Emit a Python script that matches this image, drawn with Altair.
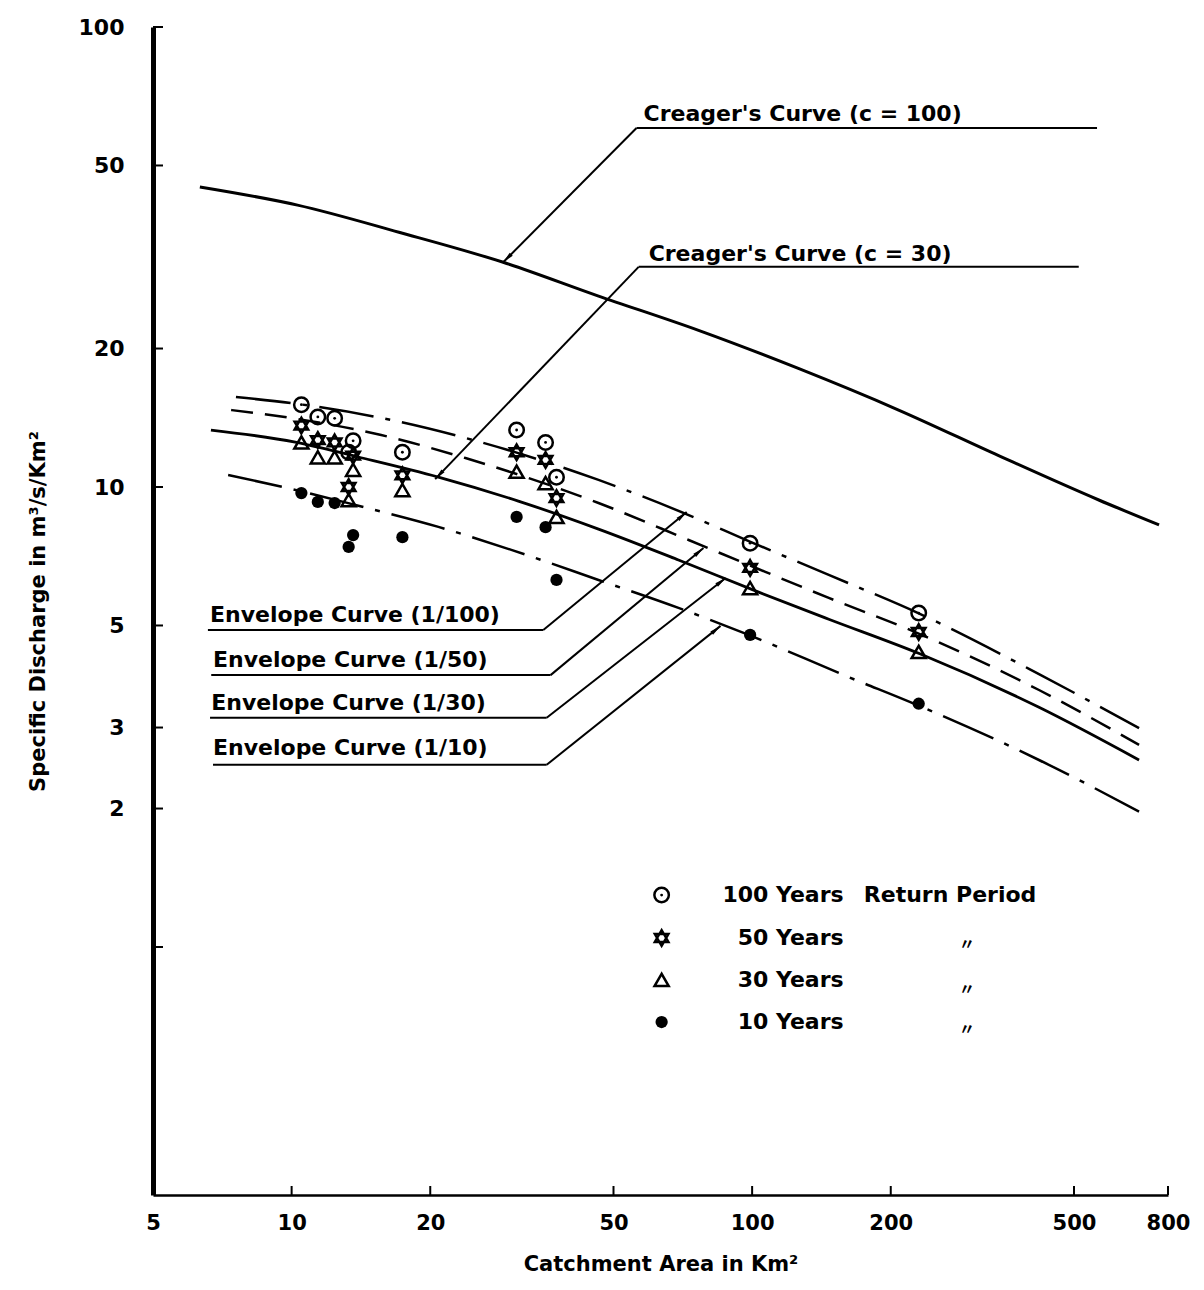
import altair as alt
import pandas as pd

# ---------------- data ----------------
# Catchment areas (km2) of the observed stations
areas = [10.5, 11.4, 12.4, 13.6, 13.3, 17.4, 30.8, 35.6, 37.6, 99.0, 230.0]
# Specific discharges (m3/s/km2) per return period
q100 = [15.1, 14.2, 14.1, 12.6, 11.9, 11.9, 13.3, 12.5, 10.5, 7.55, 5.32]
q50 = [13.6, 12.65, 12.5, 11.7, 10.0, 10.6, 11.9, 11.45, 9.46, 6.67, 4.84]
q30 = [12.5, 11.6, 11.6, 10.9, 9.37, 9.85, 10.8, 10.2, 8.61, 6.03, 4.38]
q10 = [9.7, 9.28, 9.23, 7.86, 7.41, 7.78, 8.61, 8.18, 6.28, 4.77, 3.38]

# Creager's curve (c = 100)
creager_x = [6.32, 10.3, 17.1, 28.8, 46.4, 76.5, 126, 208, 343, 566, 765]
creager_y = [44.9, 41.0, 35.8, 30.8, 26.0, 21.9, 18.1, 14.7, 11.7, 9.37, 8.27]

# Envelope curves
env100_x = [7.57, 10.33, 15.65, 23.85, 46.39, 72.8, 98.3, 146.7, 231.3, 419.7, 692.3]
env100_y = [15.69, 15.15, 14.13, 12.78, 10.36, 8.69, 7.63, 6.44, 5.30, 3.92, 2.99]
env50_x = [7.39, 10.33, 15.65, 23.85, 46.39, 72.8, 98.3, 146.7, 231.3, 419.7, 692.3]
env50_y = [14.70, 14.05, 12.97, 11.56, 9.23, 7.67, 6.77, 5.74, 4.79, 3.62, 2.75]
env30_x = [6.68, 10.18, 13.95, 20.83, 31.07, 46.39, 69.2, 103.3, 146.7, 231.3, 419.7, 692.3]
env30_y = [13.30, 12.52, 11.62, 10.51, 9.32, 8.10, 6.94, 5.91, 5.16, 4.34, 3.32, 2.55]
env10_x = [7.28, 10.44, 13.75, 20.83, 30.0, 46.39, 69.2, 98.3, 162.2, 227.9, 419.7, 692.3]
env10_y = [10.62, 9.80, 9.14, 8.19, 7.30, 6.28, 5.46, 4.77, 3.86, 3.36, 2.55, 1.97]

# axis ticks
x_ticks = [5, 10, 20, 50, 100, 200, 500, 800]
y_ticks = [1, 2, 3, 5, 10, 20, 50, 100]

# annotation labels (text, x, y in data units)
label_text = [
    "Creager's Curve (c = 100)",
    "Creager's Curve (c = 30)",
    "Envelope Curve (1/100)",
    "Envelope Curve (1/50)",
    "Envelope Curve (1/30)",
    "Envelope Curve (1/10)",
]
label_x = [58.1, 59.6, 6.65, 6.75, 6.69, 6.75]
label_y = [62.5, 31.0, 5.09, 4.06, 3.27, 2.62]

# leader lines (start -> end, data units)
lead_x = [56.1, 56.1, 56.7, 56.7, 6.58, 35.2, 6.69, 36.5, 6.65, 35.8, 6.75, 35.8]
lead_y = [60.3, 60.3, 30.1, 30.1, 4.89, 4.89, 3.90, 3.90, 3.15, 3.15, 2.49, 2.49]
lead_x2 = [561, 28.8, 512, 20.5, 35.2, 72.1, 36.5, 78.4, 35.8, 87.6, 35.8, 85.4]
lead_y2 = [60.3, 30.8, 30.1, 10.4, 4.89, 8.82, 3.90, 7.37, 3.15, 6.34, 2.49, 4.99]

# arrow heads at the curve ends of the leaders
arrow_x = [28.8, 20.5, 72.1, 78.4, 87.6, 85.4]
arrow_y = [30.8, 10.4, 8.82, 7.37, 6.34, 4.99]
arrow_angle = [225, 223, 50, 50, 52, 51]

# legend
legend_periods = ["100", "50", "30", "10"]
legend_names = ["100 Years", "50 Years", "30 Years", "10 Years"]
legend_marker_x = 63.6
legend_text_x = 158
legend_y = [1.297, 1.046, 0.848, 0.687]
legend_extra_text = ["Return Period"]
legend_extra_x = [174.8]
legend_extra_y = [1.297]
ditto_x = [293, 293, 293]
ditto_y = [1.01, 0.806, 0.660]

# ---------------- chart ----------------
FONT = "DejaVu Sans"
W, H = 1015, 1168
xs = alt.Scale(type="log", domain=[5, 800], nice=False)
ys = alt.Scale(type="log", domain=[0.289, 100], nice=False)

AX_X = alt.Axis(
    values=x_ticks,
    format="d",
    ticks=False,
    grid=False,
    labelFlush=False,
    domainColor="black",
    domainWidth=2.5,
    labelFont=FONT,
    labelFontSize=21,
    labelFontWeight="bold",
    labelColor="black",
    labelPadding=17,
    title="Catchment Area in Km²",
    titleFont=FONT,
    titleFontSize=21,
    titleFontWeight="bold",
    titleColor="black",
    titlePadding=20,
)
AX_Y = alt.Axis(
    values=y_ticks,
    format="d",
    labelExpr="datum.value == 1 ? '' : datum.label",
    ticks=False,
    grid=False,
    labelFlush=False,
    domainColor="black",
    domainWidth=5,
    labelFont=FONT,
    labelFontSize=22,
    labelFontWeight="bold",
    labelColor="black",
    labelPadding=29,
    title="Specific Discharge in m³/s/Km²",
    titleFont=FONT,
    titleFontSize=21,
    titleFontWeight="bold",
    titleColor="black",
    titlePadding=30,
)


def X(field="x"):
    return alt.X(f"{field}:Q", scale=xs, axis=AX_X, title="Catchment Area in Km²")


def Y(field="y"):
    return alt.Y(f"{field}:Q", scale=ys, axis=AX_Y, title="Specific Discharge in m³/s/Km²")


# inward ticks drawn as short rules
y_tick_layer = alt.Chart(pd.DataFrame({"y": y_ticks})).mark_rule(
    color="black", strokeWidth=2
).encode(y=Y(), x=alt.value(0), x2=alt.value(10))

x_tick_layer = alt.Chart(pd.DataFrame({"x": x_ticks[1:]})).mark_rule(
    color="black", strokeWidth=2
).encode(x=X(), y=alt.value(H), y2=alt.value(H - 9))


def curve(xv, yv, width, dash=None):
    df = pd.DataFrame({"x": xv, "y": yv})
    kw = dict(color="black", strokeWidth=width, interpolate="monotone")
    if dash is not None:
        kw["strokeDash"] = dash
    return alt.Chart(df).mark_line(**kw).encode(x=X(), y=Y())


curves = [
    curve(creager_x, creager_y, 3),
    curve(env100_x, env100_y, 2.5, [55, 12, 5, 12]),
    curve(env50_x, env50_y, 2.5, [22, 12]),
    curve(env30_x, env30_y, 2.8),
    curve(env10_x, env10_y, 2.5, [55, 12, 5, 12]),
]

leaders = alt.Chart(
    pd.DataFrame({"x": lead_x, "y": lead_y, "x2": lead_x2, "y2": lead_y2})
).mark_rule(color="black", strokeWidth=2).encode(
    x=X(), y=Y(), x2="x2:Q", y2="y2:Q"
)

ARROW = "M0,0L0.45,2.4L-0.45,2.4Z"
arrows = alt.Chart(
    pd.DataFrame({"x": arrow_x, "y": arrow_y, "a": arrow_angle})
).mark_point(shape=ARROW, filled=True, color="black", size=90, opacity=1).encode(
    x=X(), y=Y(), angle=alt.Angle("a:Q", scale=None)
)

labels = alt.Chart(
    pd.DataFrame({"x": label_x, "y": label_y, "t": label_text})
).mark_text(
    align="left", baseline="alphabetic", font=FONT, fontSize=22,
    fontWeight="bold", color="black"
).encode(x=X(), y=Y(), text="t:N")

# points + legend markers in one table
pts = []
for p, qs in zip(["100", "50", "30", "10"], [q100, q50, q30, q10]):
    for a, q in zip(areas, qs):
        pts.append({"x": a, "y": q, "period": p})
for p, yy in zip(legend_periods, legend_y):
    pts.append({"x": legend_marker_x, "y": yy, "period": p})
pts_df = pd.DataFrame(pts)

HEX = "M0,-1L0.866,0.5L-0.866,0.5Z M0,1L0.866,-0.5L-0.866,-0.5Z"


def sel(p):
    return alt.Chart(pts_df).transform_filter(alt.datum.period == p)


markers = [
    sel("100").mark_point(shape="circle", filled=False, size=210, strokeWidth=2.5,
                          color="black", opacity=1).encode(x=X(), y=Y()),
    sel("100").mark_point(shape="circle", filled=True, size=8, color="black",
                          opacity=1).encode(x=X(), y=Y()),
    sel("50").mark_point(shape=HEX, filled=False, size=250, strokeWidth=2.4,
                         color="black", opacity=1).encode(x=X(), y=Y()),
    sel("30").mark_point(shape="triangle-up", filled=False, size=200, strokeWidth=2.5,
                         color="black", opacity=1).encode(x=X(), y=Y()),
    sel("10").mark_point(shape="circle", filled=True, size=150, color="black",
                         opacity=1).encode(x=X(), y=Y()),
]

legend_text = alt.Chart(
    pd.DataFrame({"x": [legend_text_x] * 4, "y": legend_y, "t": legend_names})
).mark_text(
    align="right", baseline="middle", font=FONT, fontSize=22,
    fontWeight="bold", color="black"
).encode(x=X(), y=Y(), text="t:N")

legend_extra = alt.Chart(
    pd.DataFrame({"x": legend_extra_x, "y": legend_extra_y, "t": legend_extra_text})
).mark_text(
    align="left", baseline="middle", font=FONT, fontSize=22,
    fontWeight="bold", color="black"
).encode(x=X(), y=Y(), text="t:N")

ditto = alt.Chart(
    pd.DataFrame({"x": ditto_x, "y": ditto_y, "t": ["〃"] * 3})
).mark_text(
    align="center", baseline="middle", font="Noto Sans CJK JP", fontSize=16,
    fontWeight="bold", color="black"
).encode(x=X(), y=Y(), text="t:N")

chart = alt.layer(
    y_tick_layer, x_tick_layer, *curves, leaders, arrows, labels, *markers,
    legend_text, legend_extra, ditto
).properties(
    width=W,
    height=H,
    autosize=alt.AutoSizeParams(type="none"),
    padding={"left": 145, "top": 19, "right": 26, "bottom": 86},
).configure(background="white").configure_view(strokeOpacity=0)

chart.save("out.html", embed_options={"renderer": "svg", "actions": False})
